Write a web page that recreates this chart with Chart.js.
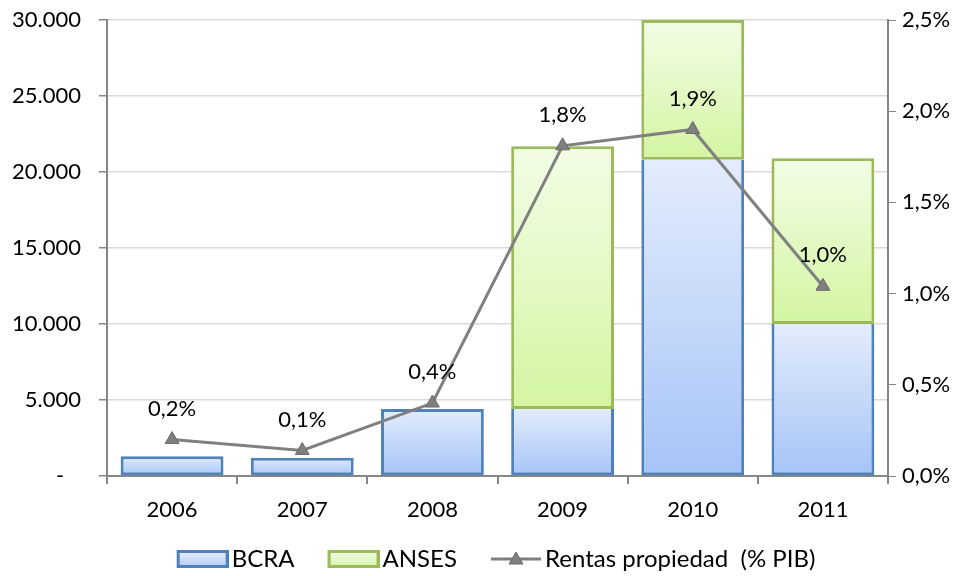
<!DOCTYPE html>
<html lang="es">
<head>
    <meta charset="UTF-8">
    <title>BCRA / ANSES</title>
    <style>
        html, body { margin: 0; padding: 0; background: #fff; overflow: hidden; }
        .chart-container { width: 965px; height: 576px; }
    </style>
    <script src="https://cdn.jsdelivr.net/npm/chart.js"></script>
</head>
<body>
    <div class="chart-container">
        <canvas id="rentasChart"></canvas>
    </div>

    <script>
        const years = ['2006', '2007', '2008', '2009', '2010', '2011'];
        const bcra = [1300, 1200, 4400, 4400, 20800, 10000];
        const anses = [0, 0, 0, 17300, 9200, 10900];
        const rentas = [0.20, 0.14, 0.40, 1.81, 1.90, 1.04];   // % PIB
        const rentasLabels = ['0,2%', '0,1%', '0,4%', '1,8%', '1,9%', '1,0%'];

        const FONT = 'Lato, "Open Sans", sans-serif';
        const FS = 22;
        const AXIS = '#868686';

        // vertical gradient for each bar, from its own top to its own base
        function barGradient(ctx, light, dark) {
            const chart = ctx.chart;
            if (!chart.chartArea || ctx.type !== 'data') return light;
            const y = chart.scales.y;
            let base = 0;
            for (let i = 0; i < ctx.datasetIndex; i++) base += chart.data.datasets[i].data[ctx.dataIndex];
            const top = y.getPixelForValue(base + ctx.raw);
            const bot = y.getPixelForValue(base);
            if (!isFinite(top) || !isFinite(bot) || top === bot) return light;
            const g = chart.ctx.createLinearGradient(0, top, 0, bot);
            g.addColorStop(0, light);
            g.addColorStop(1, dark);
            return g;
        }

        // legend icons: 70px slot, the visible mark sits in its right part, next to the text
        function legendIcon(kind) {
            const c = document.createElement('canvas');
            c.width = 88; c.height = 20;
            const g = c.getContext('2d');
            const x0 = 37;
            if (kind === 'line') {
                g.strokeStyle = '#808080'; g.lineWidth = 3;
                g.beginPath(); g.moveTo(x0, 10); g.lineTo(x0 + 50, 10); g.stroke();
                g.fillStyle = '#7f7f7f'; g.strokeStyle = '#6b6b6b'; g.lineWidth = 1;
                g.beginPath(); g.moveTo(x0 + 25, 3); g.lineTo(x0 + 32, 15); g.lineTo(x0 + 18, 15); g.closePath();
                g.fill(); g.stroke();
            } else {
                const blue = kind === 'bcra';
                const gr = g.createLinearGradient(0, 2, 0, 18);
                gr.addColorStop(0, blue ? '#e6eefc' : '#f2fde6');
                gr.addColorStop(1, blue ? '#b3cbf5' : '#d8f5ab');
                g.fillStyle = gr;
                g.fillRect(x0, 2, 50, 16);
                g.strokeStyle = blue ? '#4f81bd' : '#9bbb59';
                g.lineWidth = 3;
                g.strokeRect(x0 + 0.5, 2.5, 49, 15);
            }
            return c;
        }

        // percentage labels above the line points
        const pointLabels = {
            id: 'pointLabels',
            afterDatasetsDraw(chart) {
                const meta = chart.getDatasetMeta(2);
                const ctx = chart.ctx;
                ctx.save();
                ctx.font = FS + 'px ' + FONT;
                ctx.fillStyle = '#000';
                ctx.textAlign = 'center';
                ctx.textBaseline = 'middle';
                meta.data.forEach((pt, i) => {
                    ctx.fillText(rentasLabels[i], pt.x, pt.y - 31);
                });
                ctx.restore();
            }
        };

        const noPad = s => { s.paddingTop = 0; s.paddingBottom = 0; };

        const chart = new Chart(document.getElementById('rentasChart'), {
            data: {
                labels: years,
                datasets: [
                    {
                        type: 'bar',
                        label: 'BCRA',
                        data: bcra,
                        yAxisID: 'y',
                        order: 1,
                        backgroundColor: ctx => barGradient(ctx, '#e3ecfc', '#a6c4f7'),
                        borderColor: '#4f81bd',
                        borderWidth: 3,
                        borderSkipped: ctx => anses[ctx.dataIndex] > 0 ? 'top' : false,
                        barPercentage: 0.79,
                        categoryPercentage: 1
                    },
                    {
                        type: 'bar',
                        label: 'ANSES',
                        data: anses,
                        yAxisID: 'y',
                        order: 1,
                        backgroundColor: ctx => barGradient(ctx, '#f2fde6', '#d4f5a2'),
                        borderColor: '#9bbb59',
                        borderWidth: 3,
                        borderSkipped: false,
                        barPercentage: 0.79,
                        categoryPercentage: 1
                    },
                    {
                        type: 'line',
                        label: 'Rentas propiedad  (% PIB)',
                        data: rentas,
                        yAxisID: 'y1',
                        order: 0,
                        borderColor: '#808080',
                        borderWidth: 3,
                        tension: 0,
                        pointStyle: 'triangle',
                        pointRadius: 8,
                        pointBackgroundColor: '#7f7f7f',
                        pointBorderColor: '#6b6b6b',
                        pointBorderWidth: 1
                    }
                ]
            },
            options: {
                responsive: true,
                maintainAspectRatio: false,
                animation: false,
                layout: { padding: { top: 20, right: 0, left: 0, bottom: -5 } },
                scales: {
                    x: {
                        stacked: true,
                        offset: true,
                        grid: { offset: true, drawOnChartArea: false, drawTicks: true, tickLength: 8, color: AXIS, lineWidth: 2 },
                        border: { color: AXIS, width: 2 },
                        ticks: { color: '#000', font: { family: FONT, size: FS }, padding: 13 },
                        afterFit: s => { s.height = 65; }
                    },
                    y: {
                        stacked: true,
                        position: 'left',
                        min: 0,
                        max: 30000,
                        ticks: {
                            stepSize: 5000,
                            color: '#000',
                            font: { family: FONT, size: FS },
                            padding: 18,
                            // accounting style: zero shown as a dash, set in from the right
                            callback: v => v === 0 ? '-   ' : String(v).replace(/\B(?=(\d{3})+(?!\d))/g, '.')
                        },
                        grid: { color: '#d9d9d9', lineWidth: 1.5, tickColor: AXIS, tickLength: 8 },
                        border: { color: AXIS, width: 2 },
                        afterFit: s => { s.width = 107; noPad(s); }
                    },
                    y1: {
                        position: 'right',
                        min: 0,
                        max: 2.5,
                        ticks: {
                            stepSize: 0.5,
                            color: '#000',
                            font: { family: FONT, size: FS },
                            padding: 6,
                            callback: v => v.toFixed(1).replace('.', ',') + '%'
                        },
                        grid: { drawOnChartArea: false, tickColor: AXIS, tickLength: 8 },
                        border: { color: AXIS, width: 2 },
                        afterFit: s => { s.width = 77; noPad(s); }
                    }
                },
                plugins: {
                    tooltip: { enabled: false },
                    legend: {
                        position: 'bottom',
                        labels: {
                            color: '#000',
                            font: { family: FONT, size: 24 },
                            usePointStyle: true,
                            pointStyleWidth: 70,
                            boxHeight: 20,
                            padding: 6,
                            generateLabels: c => c.data.datasets.map((ds, i) => ({
                                text: ds.label,
                                datasetIndex: i,
                                pointStyle: legendIcon(['bcra', 'anses', 'line'][i]),
                                fillStyle: 'transparent',
                                strokeStyle: 'transparent',
                                lineWidth: 0,
                                hidden: false
                            }))
                        }
                    }
                }
            },
            plugins: [pointLabels]
        });
    </script>
</body>
</html>
